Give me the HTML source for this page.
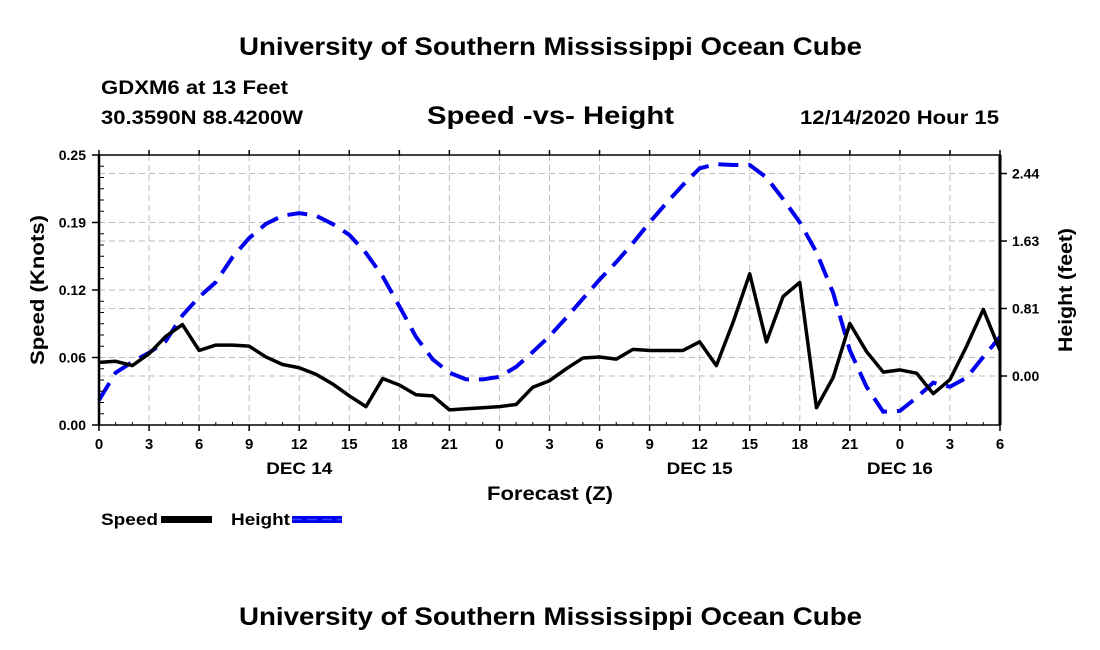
<!DOCTYPE html>
<html><head><meta charset="utf-8"><style>
body{margin:0;background:#fff;}
svg{display:block;font-family:"Liberation Sans",sans-serif;font-weight:bold;}
</style></head><body>
<svg id="chart" width="1100" height="650" viewBox="0 0 1100 650" xmlns="http://www.w3.org/2000/svg">
<rect width="1100" height="650" fill="#fff"/>
<text x="239" y="55" font-size="25" textLength="623" lengthAdjust="spacingAndGlyphs">University of Southern Mississippi Ocean Cube</text>
<text x="101" y="94" font-size="19" textLength="187" lengthAdjust="spacingAndGlyphs">GDXM6 at 13 Feet</text>
<text x="101" y="124" font-size="19" textLength="202" lengthAdjust="spacingAndGlyphs">30.3590N 88.4200W</text>
<text x="427" y="124" font-size="25" textLength="247" lengthAdjust="spacingAndGlyphs">Speed -vs- Height</text>
<text x="800" y="124" font-size="19" textLength="199" lengthAdjust="spacingAndGlyphs">12/14/2020 Hour 15</text>
<text x="239" y="625" font-size="25" textLength="623" lengthAdjust="spacingAndGlyphs">University of Southern Mississippi Ocean Cube</text>
<g id="grid"></g>
<g id="series"></g>
<g id="axes"></g>
<text x="487" y="500" font-size="19" textLength="126" lengthAdjust="spacingAndGlyphs">Forecast (Z)</text>
<text transform="translate(44,290) rotate(-90)" text-anchor="middle" font-size="19" textLength="150" lengthAdjust="spacingAndGlyphs">Speed (Knots)</text>
<text transform="translate(1072,290) rotate(-90)" text-anchor="middle" font-size="19" textLength="124" lengthAdjust="spacingAndGlyphs">Height (feet)</text>
<g>
<text x="101" y="525" font-size="17" textLength="57" lengthAdjust="spacingAndGlyphs">Speed</text>
<rect x="161" y="516" width="51" height="7" fill="#000"/>
<text x="231" y="525" font-size="17" textLength="59" lengthAdjust="spacingAndGlyphs">Height</text>
<rect x="292" y="516" width="50" height="7" fill="#0000ee"/>
<line x1="292" y1="519.5" x2="342" y2="519.5" stroke="#3344ff" stroke-width="1.5" stroke-dasharray="10 5"/>
</g>
</svg>
<script>
const hours=[0,1,2,3,4,5,6,7,8,9,10,11,12,13,14,15,16,17,18,19,20,21,22,23,24,25,26,27,28,29,30,31,32,33,34,35,36,37,38,39,40,41,42,43,44,45,46,47,48,49,50,51,52,53,54];
const speedValues=[0.058,0.059,0.055,0.066,0.082,0.093,0.069,0.074,0.074,0.073,0.063,0.056,0.053,0.047,0.038,0.027,0.017,0.043,0.037,0.028,0.027,0.014,0.015,0.016,0.017,0.019,0.035,0.041,0.052,0.062,0.063,0.061,0.070,0.069,0.069,0.069,0.077,0.055,0.095,0.140,0.077,0.119,0.132,0.016,0.044,0.094,0.068,0.049,0.051,0.048,0.029,0.042,0.073,0.107,0.069];
const heightValues=[-0.29,0.04,0.17,0.28,0.42,0.73,0.95,1.13,1.43,1.66,1.83,1.93,1.96,1.93,1.83,1.70,1.48,1.20,0.84,0.47,0.20,0.04,-0.04,-0.04,-0.01,0.11,0.29,0.48,0.70,0.93,1.16,1.37,1.60,1.85,2.08,2.30,2.50,2.55,2.54,2.54,2.39,2.13,1.85,1.49,1.00,0.31,-0.13,-0.43,-0.42,-0.26,-0.08,-0.13,-0.02,0.23,0.47];
const xTickHours=[0,3,6,9,12,15,18,21,24,27,30,33,36,39,42,45,48,51,54];
const xTickLabels=["0","3","6","9","12","15","18","21","0","3","6","9","12","15","18","21","0","3","6"];
const dayLabels=["DEC 14","DEC 15","DEC 16"];
const dayHours=[12,36,48];
const leftTicks=[0,0.0625,0.125,0.1875,0.25];
const leftTickLabels=["0.00","0.06","0.12","0.19","0.25"];
const rightTicks=[0,0.8125,1.625,2.4375];
const rightTickLabels=["0.00","0.81","1.63","2.44"];

const L=99,R=1000,T=155,B=425;
const X=h=>L+(h-0)/(54-0)*(R-L);
const YL=v=>B-(v/0.25)*(B-T);
const YR=v=>376-(v/0.8125)*67.5;
const NS="http://www.w3.org/2000/svg";
function mk(tag,attrs,parent){const e=document.createElementNS(NS,tag);for(const k in attrs)e.setAttribute(k,attrs[k]);parent.appendChild(e);return e;}
const grid=document.getElementById('grid'),series=document.getElementById('series'),axes=document.getElementById('axes');
const gs={stroke:"#bbb","stroke-width":1,"stroke-dasharray":"6 4"};
xTickHours.forEach(h=>{const l=mk('line',Object.assign({x1:X(h),x2:X(h),y1:T,y2:B},gs),grid);

});
leftTicks.forEach(v=>{const l=mk('line',Object.assign({x1:L,x2:R,y1:YL(v),y2:YL(v)},gs),grid);

});
rightTicks.forEach(v=>{const l=mk('line',Object.assign({x1:L,x2:R,y1:YR(v),y2:YR(v)},gs),grid);

});
const hp=mk('polyline',{points:hours.map((h,i)=>X(h)+','+YR(heightValues[i])).join(' '),fill:'none',stroke:'#0000ee','stroke-width':4,'stroke-dasharray':'20 10'},series);


const sp=mk('polyline',{points:hours.map((h,i)=>X(h)+','+YL(speedValues[i])).join(' '),fill:'none',stroke:'#000','stroke-width':3.5,'stroke-linejoin':'round'},series);


const fr=mk('rect',{x:L,y:T,width:R-L,height:B-T,fill:'none',stroke:'#000','stroke-width':1.5},axes);


mk('line',{x1:L,x2:L,y1:T,y2:B,stroke:'#000','stroke-width':2.5},axes);
mk('line',{x1:R,x2:R,y1:T,y2:B,stroke:'#000','stroke-width':3},axes);
xTickHours.forEach((h,i)=>{mk('line',{x1:X(h),x2:X(h),y1:B,y2:B+6,stroke:'#000','stroke-width':1.5},axes);
mk('line',{x1:X(h),x2:X(h),y1:T,y2:T-5,stroke:'#000','stroke-width':1.5},axes);
const t=mk('text',{x:X(h),y:B+24,'text-anchor':'middle','font-size':15},axes);t.textContent=xTickLabels[i];

});
for(let h=1;h<54;h++){if(h%3)mk('line',{x1:X(h),x2:X(h),y1:B,y2:B-3,stroke:'#000','stroke-width':1},axes);}
dayHours.forEach((h,i)=>{const t=mk('text',{x:X(h),y:B+49,'text-anchor':'middle','font-size':17,textLength:66,lengthAdjust:'spacingAndGlyphs'},axes);t.textContent=dayLabels[i];

});
leftTicks.forEach((v,i)=>{mk('line',{x1:L-7,x2:L,y1:YL(v),y2:YL(v),stroke:'#000','stroke-width':1.5},axes);
const t=mk('text',{x:L-13,y:YL(v)+5,'text-anchor':'end','font-size':14},axes);t.textContent=leftTickLabels[i];


if(i<leftTicks.length-1)for(let k=1;k<6;k++){const y=YL(v)-k*(B-T)/24;mk('line',{x1:L,x2:L+5,y1:y,y2:y,stroke:'#000','stroke-width':1},axes);}});
rightTicks.forEach((v,i)=>{mk('line',{x1:R,x2:R+7,y1:YR(v),y2:YR(v),stroke:'#000','stroke-width':1.5},axes);
const t=mk('text',{x:R+12,y:YR(v)+5,'text-anchor':'start','font-size':14},axes);t.textContent=rightTickLabels[i];

});
</script>
</body></html>
